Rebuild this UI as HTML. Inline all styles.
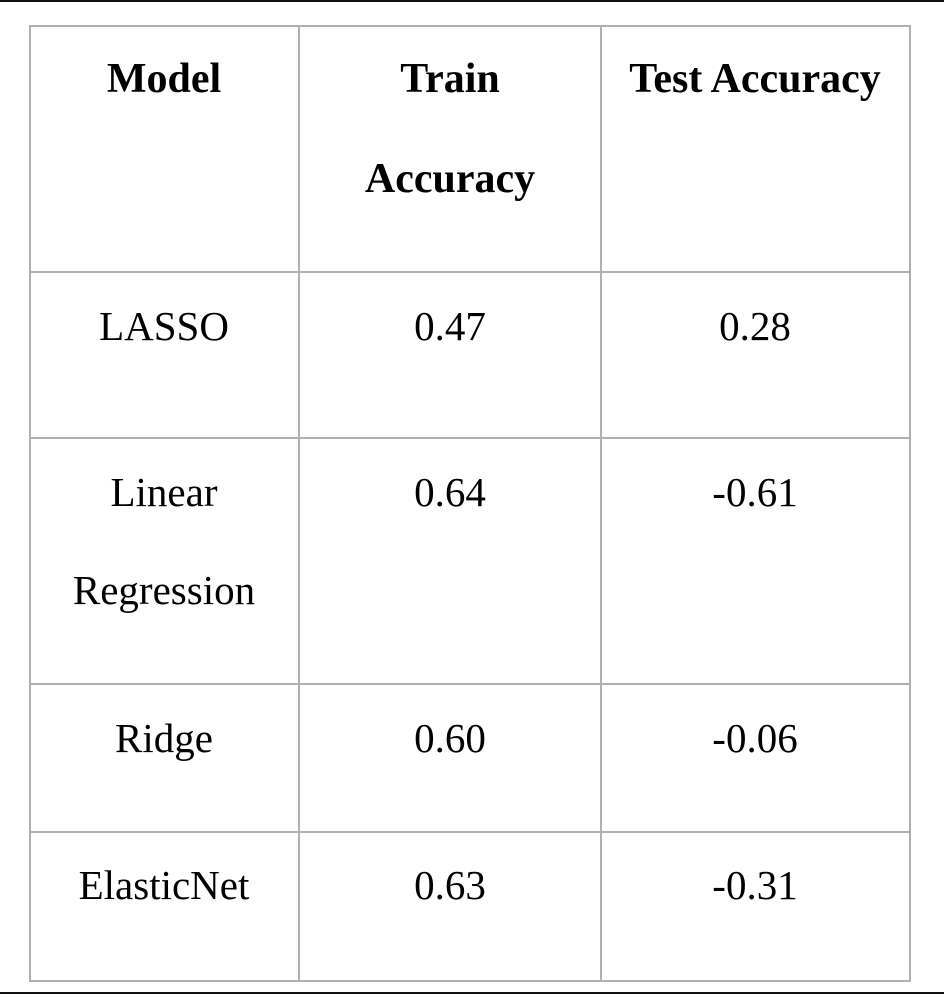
<!DOCTYPE html>
<html><head><meta charset="utf-8"><style>
html,body{margin:0;padding:0;background:#fff;}
#page{position:relative;width:944px;height:994px;overflow:hidden;font-family:"Liberation Serif",serif;color:#000;}
.bar{position:absolute;left:0;width:944px;height:2px;background:#111;}
.h{position:absolute;height:2px;background:#b0b0b0;}
.v{position:absolute;width:2px;background:#b0b0b0;}
.t{position:absolute;width:300px;margin-left:-150px;height:50px;line-height:50px;margin-top:-26px;text-align:center;font-size:41px;white-space:nowrap;}
.b{font-weight:bold;font-size:42px;}
</style></head><body>
<div id="page">
<div class="bar" style="top:0"></div>
<div class="bar" style="top:992px"></div>
<div>
<div class="h" style="left:29px;width:882px;top:25px"></div>
<div class="h" style="left:29px;width:882px;top:271px"></div>
<div class="h" style="left:29px;width:882px;top:437px"></div>
<div class="h" style="left:29px;width:882px;top:683px"></div>
<div class="h" style="left:29px;width:882px;top:831px"></div>
<div class="h" style="left:29px;width:882px;top:980px"></div>
<div class="v" style="left:29px;top:25px;height:957px"></div>
<div class="v" style="left:298px;top:25px;height:957px"></div>
<div class="v" style="left:600px;top:25px;height:957px"></div>
<div class="v" style="left:909px;top:25px;height:957px"></div>
</div>
<div class="t b" style="left:164px;top:80px">Model</div>
<div class="t b" style="left:450px;top:80px">Train</div>
<div class="t b" style="left:450px;top:180px">Accuracy</div>
<div class="t b" style="left:755px;top:80px">Test Accuracy</div>

<div class="t" style="left:164px;top:327px">LASSO</div>
<div class="t" style="left:450px;top:327px">0.47</div>
<div class="t" style="left:755px;top:327px">0.28</div>

<div class="t" style="left:164px;top:493px">Linear</div>
<div class="t" style="left:164px;top:591px">Regression</div>
<div class="t" style="left:450px;top:493px">0.64</div>
<div class="t" style="left:755px;top:493px">-0.61</div>

<div class="t" style="left:164px;top:739px">Ridge</div>
<div class="t" style="left:450px;top:739px">0.60</div>
<div class="t" style="left:755px;top:739px">-0.06</div>

<div class="t" style="left:164px;top:886px">ElasticNet</div>
<div class="t" style="left:450px;top:886px">0.63</div>
<div class="t" style="left:755px;top:886px">-0.31</div>
</div>
</body></html>
